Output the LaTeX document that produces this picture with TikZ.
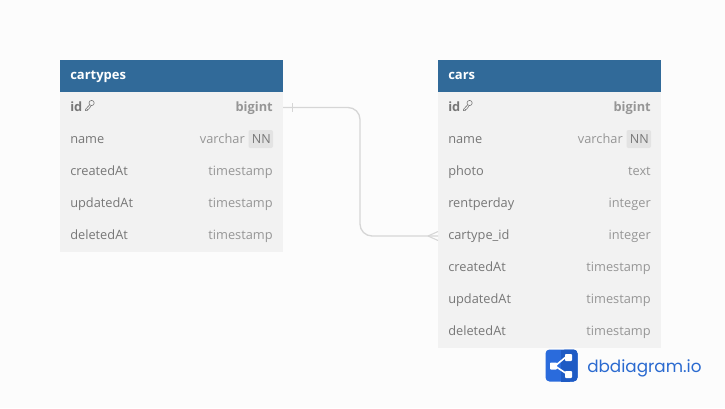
\documentclass[tikz,border=0pt]{standalone}
\usepackage{fontspec}
\setmainfont{Open Sans}
\newfontfamily\brandfont{Poppins}
\usetikzlibrary{positioning}
\definecolor{pagebg}{HTML}{FCFCFC}
\definecolor{headbg}{HTML}{316A99}
\definecolor{rowbg}{HTML}{F2F2F2}
\definecolor{txt}{HTML}{777777}
\definecolor{typetxt}{HTML}{969696}
\definecolor{nnbg}{HTML}{E3E3E3}
\definecolor{conn}{HTML}{D6D6D6}
\definecolor{logoa}{HTML}{2A6BDC}
\definecolor{logob}{HTML}{1F5BC4}
\definecolor{logotxt}{HTML}{2A6AD0}
\tikzset{
  x=0.75pt,y=-0.75pt,
  headrow/.style={fill=headbg,draw=none,minimum width=167.25pt,minimum height=24pt,inner sep=0pt,outer sep=0pt,anchor=north west},
  bodyrow/.style={fill=rowbg,draw=none,minimum width=167.25pt,minimum height=24pt,inner sep=0pt,outer sep=0pt,anchor=north west},
  headtxt/.style={anchor=base west,inner sep=0pt,text=white,font=\fontsize{9.75pt}{12pt}\selectfont\bfseries},
  fieldtxt/.style={anchor=base west,inner sep=0pt,text=txt,font=\fontsize{9.6pt}{12pt}\selectfont},
  keytxt/.style={fieldtxt,font=\fontsize{9.6pt}{12pt}\selectfont\bfseries},
  typelabel/.style={anchor=base east,inner sep=0pt,text=typetxt,font=\fontsize{9.6pt}{12pt}\selectfont},
  keytype/.style={typelabel,font=\fontsize{9.6pt}{12pt}\selectfont\bfseries},
  nnback/.style={fill=nnbg,rounded corners=1.5pt},
  nntxt/.style={anchor=base east,inner sep=0pt,text=txt,font=\fontsize{9.4pt}{12pt}\selectfont},
  relline/.style={draw=conn,line width=1pt},
  keyicon/.style={draw=txt,line width=0.45pt},
}
\begin{document}
\begin{tikzpicture}
\useasboundingbox (0,0) rectangle (725,408);
\fill[pagebg] (0,0) rectangle (725,408);

% ---- cartypes
\node[headrow] (cthead) at (60,60) {};
\node[headtxt] (cttitle) at (70,79) {cartypes};
\node[bodyrow] (ctid) at (60,92) {};
\node[bodyrow] (ctname) at (60,124) {};
\node[bodyrow] (ctcreated) at (60,156) {};
\node[bodyrow] (ctupdated) at (60,188) {};
\node[bodyrow] (ctdeleted) at (60,220) {};
\fill[nnback] (248.5,130) rectangle (273,148);
\node[keytxt] (ctidl) at (70,111) {id};
\node[keytype] (ctidt) at (273,111) {bigint};
\node[fieldtxt] (ctnamel) at (70,143) {name};
\node[nntxt] (ctnn) at (271,143) {NN};
\node[typelabel] (ctnamet) at (245,143) {varchar};
\node[fieldtxt] (ctcreatedl) at (70,175) {createdAt};
\node[typelabel] (ctcreatedt) at (273,175) {timestamp};
\node[fieldtxt] (ctupdatedl) at (70,207) {updatedAt};
\node[typelabel] (ctupdatedt) at (273,207) {timestamp};
\node[fieldtxt] (ctdeletedl) at (70,239) {deletedAt};
\node[typelabel] (ctdeletedt) at (273,239) {timestamp};

% ---- cars
\node[headrow] (chead) at (438,60) {};
\node[headtxt] (ctitle) at (448,79) {cars};
\node[bodyrow] (cid) at (438,92) {};
\node[bodyrow] (cname) at (438,124) {};
\node[bodyrow] (cphoto) at (438,156) {};
\node[bodyrow] (crent) at (438,188) {};
\node[bodyrow] (ctype) at (438,220) {};
\node[bodyrow] (ccreated) at (438,252) {};
\node[bodyrow] (cupdated) at (438,284) {};
\node[bodyrow] (cdeleted) at (438,316) {};
\fill[nnback] (626.5,130) rectangle (651,148);
\node[keytxt] (cidl) at (448,111) {id};
\node[keytype] (cidt) at (651,111) {bigint};
\node[fieldtxt] (cnamel) at (448,143) {name};
\node[nntxt] (cnn) at (649,143) {NN};
\node[typelabel] (cnamet) at (623,143) {varchar};
\node[fieldtxt] (cphotol) at (448,175) {photo};
\node[typelabel] (cphotot) at (651,175) {text};
\node[fieldtxt] (crentl) at (448,207) {rentperday};
\node[typelabel] (crentt) at (651,207) {integer};
\node[fieldtxt] (ctypel) at (448,239) {cartype\_id};
\node[typelabel] (ctypet) at (651,239) {integer};
\node[fieldtxt] (ccreatedl) at (448,271) {createdAt};
\node[typelabel] (ccreatedt) at (651,271) {timestamp};
\node[fieldtxt] (cupdatedl) at (448,303) {updatedAt};
\node[typelabel] (cupdatedt) at (651,303) {timestamp};
\node[fieldtxt] (cdeletedl) at (448,335) {deletedAt};
\node[typelabel] (cdeletedt) at (651,335) {timestamp};

% ---- key icons
\foreach \ox in {86,464}{
  \begin{scope}[shift={(\ox,106)}]
    \draw[keyicon] (5.6,-3) circle[radius=2.6];
    \draw[keyicon] (3.7,-1.2) -- (-0.6,3.4) -- (-0.6,4.6) -- (1.2,4.6) -- (1.2,3.4) -- (2.4,3.4) -- (4.9,0.2);
  \end{scope}
}

% ---- relationship
\draw[relline,rounded corners=9pt] (ctid.east |- 0,107.5) -- (360,107.5) -- (360,236) -- (ctype.west |- 0,236);
\draw[conn,line width=0.8pt] (292.5,103) -- (292.5,112);
\draw[conn,line width=0.8pt] (428,236) -- (438,231.5);
\draw[conn,line width=0.8pt] (428,236) -- (438,240.5);

% ---- logo
\fill[logoa,rounded corners=3pt] (545.5,349.5) rectangle (577.5,381.5);
\fill[logob,rounded corners=3pt] (561,349.5) rectangle (577.5,381.5);
\fill[logob] (561,349.5) rectangle (570,381.5);
\draw[white,line width=1.2pt] (555,366) -- (567,356) (555,366) -- (567,374);
\fill[white,rounded corners=0.6pt] (550,362.5) rectangle (557,369.5);
\fill[white,rounded corners=0.6pt] (565,354) rectangle (572,361);
\fill[white,rounded corners=0.6pt] (565,371) rectangle (572,378);
\node[anchor=base west,inner sep=0pt,text=logotxt,font=\brandfont\fontsize{12.6pt}{16pt}\selectfont] (brand) at (587,372) {dbdiagram.io};
\end{tikzpicture}
\end{document}
